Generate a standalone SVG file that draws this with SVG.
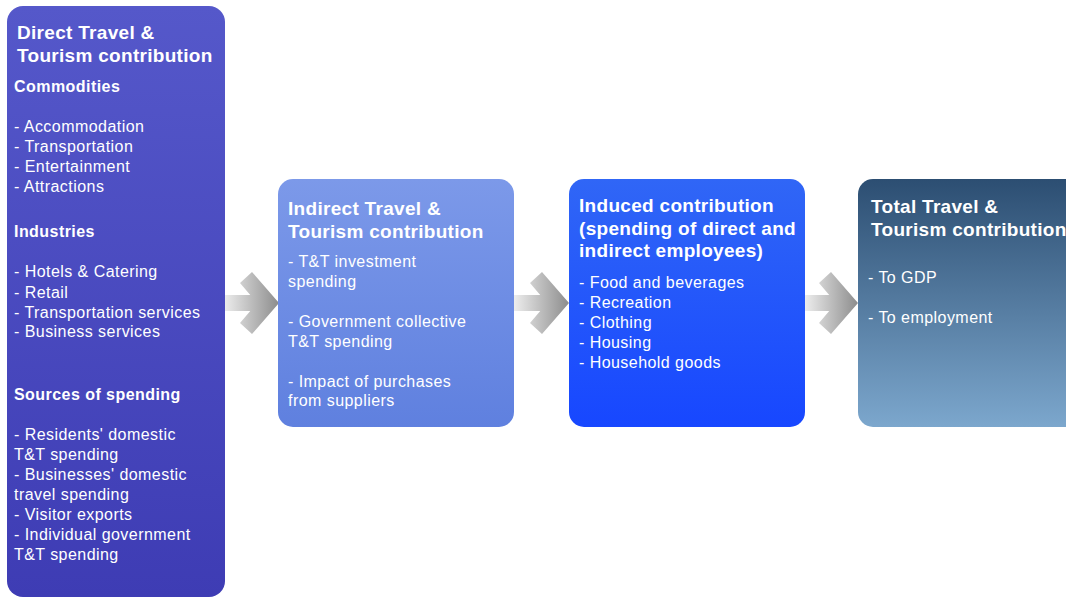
<svg xmlns="http://www.w3.org/2000/svg" width="1066" height="598" viewBox="0 0 1066 598">
<defs>
<linearGradient id="g1" x1="0" y1="0" x2="0" y2="1"><stop offset="0" stop-color="#5558CA"/><stop offset="1" stop-color="#3E3CB4"/></linearGradient>
<linearGradient id="g2" x1="0" y1="0" x2="0" y2="1"><stop offset="0" stop-color="#7C99E9"/><stop offset="1" stop-color="#5F80DF"/></linearGradient>
<linearGradient id="g3" x1="0" y1="0" x2="0" y2="1"><stop offset="0" stop-color="#3066F6"/><stop offset="1" stop-color="#1747FF"/></linearGradient>
<linearGradient id="g4" x1="0" y1="0" x2="0" y2="1"><stop offset="0" stop-color="#2C4E72"/><stop offset="1" stop-color="#7CA7CD"/></linearGradient>
<linearGradient id="ga" x1="0" y1="0" x2="1" y2="0"><stop offset="0" stop-color="#EDEDED"/><stop offset="1" stop-color="#8C8C8C"/></linearGradient>
<style>
text{font-family:"Liberation Sans",Arial,sans-serif;fill:#FFFFFF}
.t{font-size:19px;font-weight:bold;letter-spacing:0.3px}
.h{font-size:16px;font-weight:bold;letter-spacing:0.45px}
.b{font-size:16px;letter-spacing:0.45px}
.arrow{fill:url(#ga)}
</style>
</defs>
<g id="connectors">
<path class="arrow" d="M224 295H270V311H224Z M240 283L252 272L279 303L252 334L240 323L257 303Z"/>
<path class="arrow" d="M514 295H560V311H514Z M530 283L542 272L569 303L542 334L530 323L547 303Z"/>
<path class="arrow" d="M805 295H849V311H805Z M819 283L831 272L858 303L831 334L819 323L836 303Z"/>
</g>
<g id="direct">
<rect x="7" y="6" width="218" height="591" rx="16" fill="url(#g1)"/>
<text class="t" x="17" y="39">Direct Travel &amp;</text>
<text class="t" x="17" y="62">Tourism contribution</text>
<text class="h" x="14" y="92">Commodities</text>
<text class="b" x="14" y="132">- Accommodation</text>
<text class="b" x="14" y="152">- Transportation</text>
<text class="b" x="14" y="172">- Entertainment</text>
<text class="b" x="14" y="192">- Attractions</text>
<text class="h" x="14" y="237">Industries</text>
<text class="b" x="14" y="277">- Hotels &amp; Catering</text>
<text class="b" x="14" y="298">- Retail</text>
<text class="b" x="14" y="318">- Transportation services</text>
<text class="b" x="14" y="337">- Business services</text>
<text class="h" x="14" y="400">Sources of spending</text>
<text class="b" x="14" y="440">- Residents' domestic</text>
<text class="b" x="14" y="460">T&amp;T spending</text>
<text class="b" x="14" y="480">- Businesses' domestic</text>
<text class="b" x="14" y="500">travel spending</text>
<text class="b" x="14" y="520">- Visitor exports</text>
<text class="b" x="14" y="540">- Individual government</text>
<text class="b" x="14" y="560">T&amp;T spending</text>
</g>
<g id="indirect">
<rect x="278" y="179" width="236" height="248" rx="15" fill="url(#g2)"/>
<text class="t" x="288" y="215">Indirect Travel &amp;</text>
<text class="t" x="288" y="238">Tourism contribution</text>
<text class="b" x="288" y="267">- T&amp;T investment</text>
<text class="b" x="288" y="287">spending</text>
<text class="b" x="288" y="327">- Government collective</text>
<text class="b" x="288" y="347">T&amp;T spending</text>
<text class="b" x="288" y="387">- Impact of purchases</text>
<text class="b" x="288" y="406">from suppliers</text>
</g>
<g id="induced">
<rect x="569" y="179" width="236" height="248" rx="15" fill="url(#g3)"/>
<text class="t" x="579" y="212">Induced contribution</text>
<text class="t" x="579" y="235">(spending of direct and</text>
<text class="t" x="579" y="257">indirect employees)</text>
<text class="b" x="579" y="288">- Food and beverages</text>
<text class="b" x="579" y="308">- Recreation</text>
<text class="b" x="579" y="328">- Clothing</text>
<text class="b" x="579" y="348">- Housing</text>
<text class="b" x="579" y="368">- Household goods</text>
</g>
<g id="total">
<rect x="858" y="179" width="236" height="248" rx="15" fill="url(#g4)"/>
<text class="t" x="871" y="213">Total Travel &amp;</text>
<text class="t" x="871" y="236">Tourism contribution</text>
<text class="b" x="868" y="283">- To GDP</text>
<text class="b" x="868" y="323">- To employment</text>
</g>
</svg>
